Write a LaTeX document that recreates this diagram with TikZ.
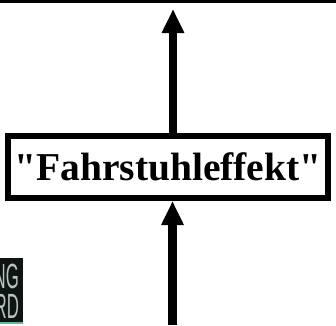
\documentclass[tikz,border=0pt]{standalone}
\usepackage{fontspec}
\setmainfont{Liberation Serif}
\newfontfamily\effectfont{Liberation Serif}
\newfontfamily\signfont{Liberation Sans}
\usetikzlibrary{arrows.meta,positioning}
\definecolor{signdark}{HTML}{0E1412}
\definecolor{signtext}{HTML}{B8C4BE}
\definecolor{signteal}{HTML}{5FB8A0}

\begin{document}
\begin{tikzpicture}[x=1pt,y=1pt,
  effect/.style={draw=black, line width=6pt, fill=white, minimum width=320pt,
                 minimum height=62pt, inner sep=0pt,
                 font=\effectfont\fontsize{39.5}{42}\selectfont\bfseries},
  arrow/.style={-{Triangle[width=21pt,length=24pt]}, line width=8.5pt},
  rule/.style={line width=3.2pt},
  sign/.style={font=\signfont\fontsize{35}{35}\selectfont, text=signtext,
               inner sep=0pt, xscale=0.48, transform shape},
]
  \useasboundingbox (0,0) rectangle (336,325);

  % Top rule.
  \coordinate (ruleleft) at (0,323.4);
  \coordinate (ruleright) at (336,323.4);
  \draw[rule] (ruleleft) -- (ruleright);

  % Box with both arrows.
  \node[effect] (effect) at (168,158) {"Fahrstuhleffekt"};
  \coordinate (up) at (173,316);
  \coordinate (down) at (172.5,0);
  \draw[arrow] (effect.north -| up) -- (up);
  \draw[arrow] (down) -- (down |- effect.south);

  % Cut-off sign in the corner.
  \fill[signdark] (0,3) rectangle (22.5,67);
  \fill[signteal] (0,1) rectangle (22.5,3);
  \begin{scope}
    \clip (0,3) rectangle (22.5,67);
    \node[sign, anchor=base east] (signtop) at (19,37) {NG};
    \node[sign, anchor=base east] (signbottom) at (19,7) {RD};
  \end{scope}
\end{tikzpicture}
\end{document}
